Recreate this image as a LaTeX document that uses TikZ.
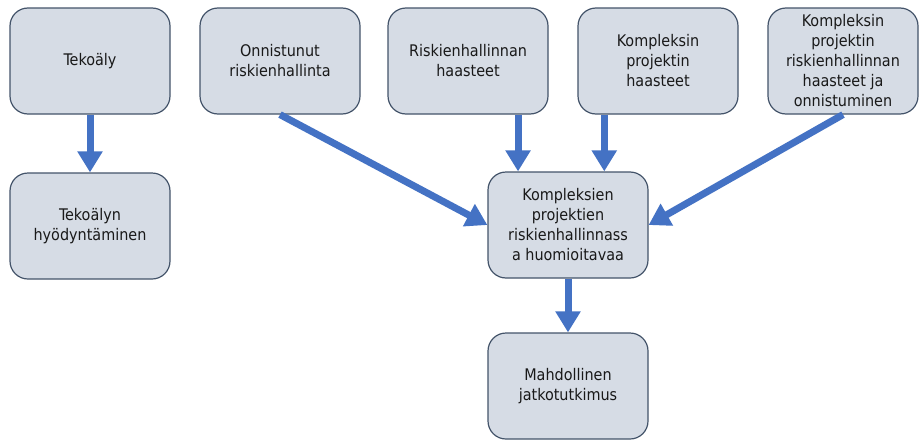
\documentclass[tikz,border=0pt]{standalone}
\usepackage{fontspec}
\setmainfont{DejaVu Sans Condensed}
\usetikzlibrary{arrows.meta,calc}
\definecolor{laatikko}{HTML}{D6DCE5}
\definecolor{reuna}{HTML}{44546A}
\definecolor{nuolisin}{HTML}{4472C4}
\tikzset{
  laatu/.style = {draw=reuna, line width=1.2pt, rounded corners=18pt,
                  fill=laatikko, align=center, text=black!90,
                  font=\fontsize{16}{20}\selectfont,
                  minimum width=160pt, minimum height=106pt, inner sep=4pt},
  nuoli/.style = {draw=nuolisin, line width=7pt,
                  -{Triangle[width=24pt,length=21pt]}},
}

\begin{document}
\begin{tikzpicture}[x=1pt, y=-1pt]
  \useasboundingbox[fill=white] (0,0) rectangle (920,439);
  % ylarivi
  \node[laatu] (tek) at (90,61)  {Tekoäly};
  \node[laatu] (oni) at (280,61) {Onnistunut\\riskienhallinta};
  \node[laatu] (ris) at (468,61) {Riskienhallinnan\\haasteet};
  \node[laatu] (kph) at (658,61) {Kompleksin\\projektin\\haasteet};
  \node[laatu, minimum width=150pt] (kro) at (843,61)
    {Kompleksin\\projektin\\riskienhallinnan\\haasteet ja\\onnistuminen};
  % keskirivi
  \node[laatu] (hyo) at (90,226)  {Tekoälyn\\hyödyntäminen};
  \node[laatu] (kes) at (568,225) {Kompleksien\\projektien\\riskienhallinnass\\a huomioitavaa};
  % alarivi
  \node[laatu] (jat) at (568,386) {Mahdollinen\\jatkotutkimus};
  % nuolet
  \coordinate (k1) at ($(kes.north west)!0.19!(kes.north east)$);
  \coordinate (k2) at ($(kes.north west)!0.725!(kes.north east)$);
  \draw[nuoli] (tek) -- (hyo);
  \draw[nuoli] (oni.south) -- (kes.west);
  \draw[nuoli] (ris.south -| k1) -- (k1);
  \draw[nuoli] (kph.south -| k2) -- (k2);
  \draw[nuoli] (kro.south) -- (kes.east);
  \draw[nuoli] (kes) -- (jat);
\end{tikzpicture}
\end{document}
